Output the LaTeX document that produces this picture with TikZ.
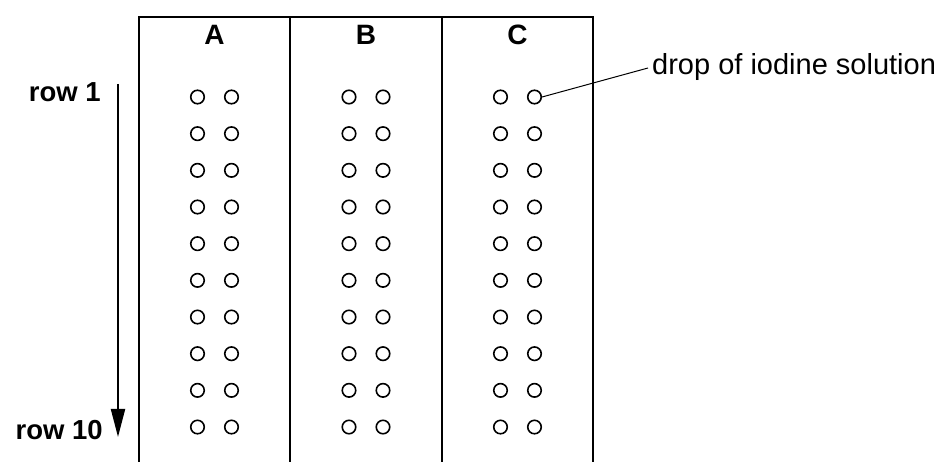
\documentclass[tikz,border=0pt]{standalone}
\usepackage{fontspec}
\setmainfont{Liberation Sans}
\usetikzlibrary{arrows.meta}
\begin{document}
\begin{tikzpicture}[x=1pt,y=-1pt,
  frame/.style={line width=2pt, line cap=rect},
  drop/.style={circle, draw, line width=1.6pt, minimum size=13.5pt, inner sep=0pt},
  head/.style={font=\fontsize{28}{30}\selectfont\bfseries, inner sep=0pt},
  rowlab/.style={font=\fontsize{27.5}{30}\selectfont\bfseries, inner sep=0pt, anchor=base east},
  note/.style={font=\fontsize{29}{32}\selectfont, inner sep=0pt, anchor=base west}]
\useasboundingbox (0,0) rectangle (943,462);
% frame
\coordinate (tl) at (139,17);
\coordinate (tr) at (593,17);
\draw[frame] (139,462) -- (tl) -- (tr) -- (593,462);
\draw[frame] (290,17) -- (290,462);
\draw[frame] (442,17) -- (442,462);
% headings
\node[head, anchor=base] (hA) at (214.5,45) {A};
\node[head, anchor=base] (hB) at (366,45) {B};
\node[head, anchor=base] (hC) at (517.5,45) {C};
% drops
\foreach \col/\cx in {A/214.5, B/366, C/517.5} {
  \foreach \r in {1,...,10} {
    \node[drop] (\col-\r-l) at ({\cx-17},{97+(\r-1)*36.67}) {};
    \node[drop] (\col-\r-r) at ({\cx+17},{97+(\r-1)*36.67}) {};
  }
}
% row labels and arrow
\node[rowlab] (r1) at (101,102) {row 1};
\node[rowlab] (r10) at (103,439) {row 10};
\coordinate (astart) at (118,84);
\coordinate (aend) at (118,437);
\draw[line width=2pt, -{Triangle[length=28pt,width=14pt]}] (astart) -- (aend);
% label
\node[note] (lab) at (652,75) {drop of iodine solution};
\draw[line width=1pt] (C-1-r.east) -- ([xshift=-4pt]lab.west |- 0,68);
\end{tikzpicture}
\end{document}
